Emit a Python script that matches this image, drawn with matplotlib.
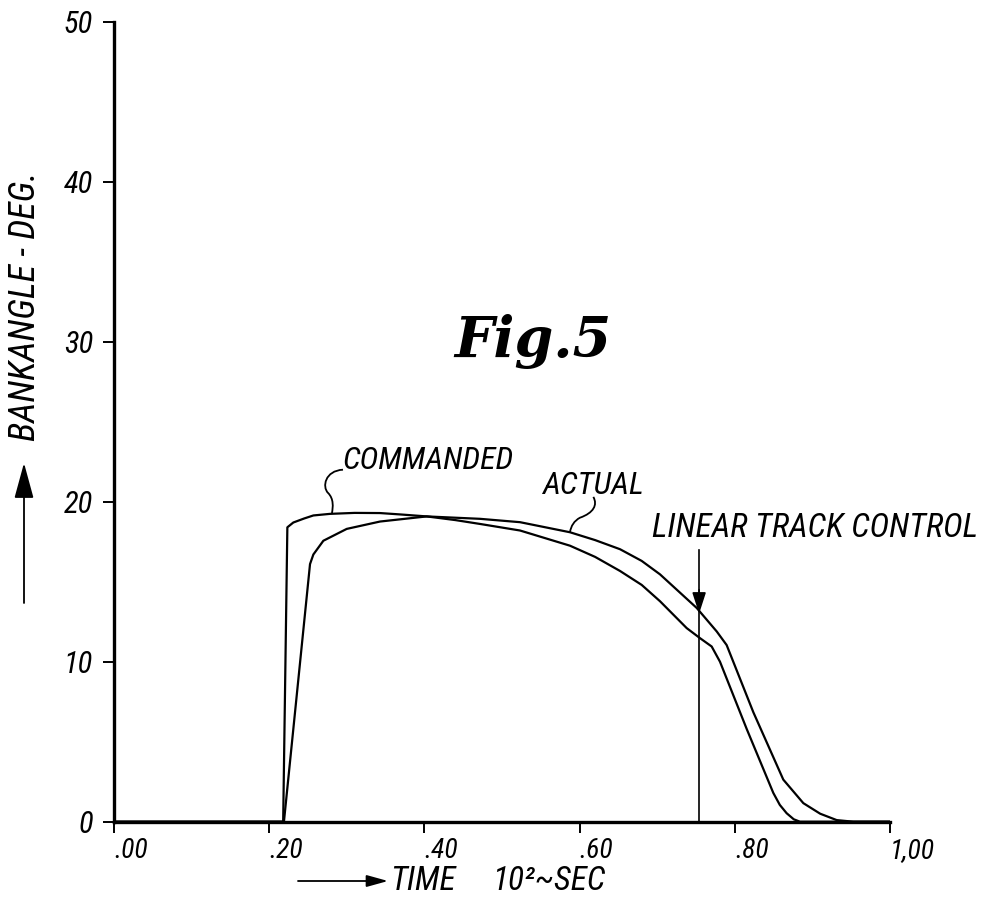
import matplotlib
matplotlib.use("Agg")
import matplotlib.pyplot as plt
from matplotlib import font_manager
from matplotlib.path import Path
from matplotlib.patches import PathPatch

# Bank angle response, time in 10^2 sec, angle in deg
time_commanded = [0.0, 0.218, 0.2234, 0.2311, 0.245, 0.2569, 0.2784, 0.31, 0.3428, 0.37,
                  0.403, 0.44, 0.4716, 0.5232, 0.5876, 0.62, 0.6521, 0.68, 0.7036, 0.738,
                  0.7552, 0.7702, 0.7809, 0.8153, 0.8496, 0.858, 0.8668, 0.876, 0.884, 1.0]
bank_commanded = [0.0, 0.0, 18.4, 18.7, 18.95, 19.14, 19.24, 19.3, 19.29, 19.2,
                  19.08, 18.85, 18.61, 18.2, 17.25, 16.55, 15.67, 14.8, 13.78, 12.1,
                  11.47, 10.95, 10.0, 5.8, 1.8, 1.05, 0.53, 0.15, 0.0, 0.0]

time_actual = [0.0, 0.219, 0.2526, 0.2569, 0.2698, 0.2999, 0.3428, 0.403, 0.4716,
               0.5232, 0.5876, 0.62, 0.6521, 0.68, 0.7036, 0.7509, 0.7767, 0.7895,
               0.8239, 0.8625, 0.8883, 0.91, 0.9313, 0.9527, 1.0]
bank_actual = [0.0, 0.0, 16.1, 16.7, 17.56, 18.3, 18.76, 19.08, 18.93,
               18.72, 18.09, 17.6, 17.03, 16.3, 15.46, 13.36, 11.89, 11.04,
               6.84, 2.63, 1.16, 0.5, 0.1, 0.0, 0.0]

x_ticks = [0.0, 0.2, 0.4, 0.6, 0.8, 1.0]
x_tick_labels = [".00", ".20", ".40", ".60", ".80", "1,00"]
y_ticks = [0, 10, 20, 30, 40, 50]
y_tick_labels = ["0", "10", "20", "30", "40", "50"]

# linear track control marker
track_time = 0.754
track_top = 17.0
track_tip = 13.0

# leader squiggles (data coords)
cmd_leader_x = [0.2951, 0.2719, 0.268, 0.2758, 0.2835, 0.2822, 0.2809]
cmd_leader_y = [22.0, 21.94, 20.93, 20.55, 20.17, 19.67, 19.29]
act_leader_x = [0.6177, 0.6235, 0.618, 0.6005, 0.5930, 0.5890, 0.5876]
act_leader_y = [20.3, 19.8, 19.3, 19.0, 18.8, 18.5, 18.09]

names = {f.name for f in font_manager.fontManager.ttflist}
hand = next((n for n in ["Liberation Sans Narrow", "Roboto Condensed", "Liberation Sans"]
             if n in names), "DejaVu Sans")
narrow = hand != "Liberation Sans"
k = 1.0 if narrow else 0.85

W, H = 990, 899
fig = plt.figure(figsize=(W / 100, H / 100), dpi=100)
ax = fig.add_axes([114 / W, 1 - 821.7 / H, (890 - 114) / W, 800 / H])


def fpx(x, y):
    return x / W, 1 - y / H


ax.plot(time_commanded, bank_commanded, color="black", lw=1.6, solid_joinstyle="round")
ax.plot(time_actual, bank_actual, color="black", lw=1.6, solid_joinstyle="round")

ax.set_xlim(0, 1)
ax.set_ylim(0, 50)
for s in ["top", "right"]:
    ax.spines[s].set_visible(False)
for s in ["left", "bottom"]:
    ax.spines[s].set_linewidth(2.4)

ax.set_xticks(x_ticks, x_tick_labels)
ax.set_yticks(y_ticks, y_tick_labels)
ax.tick_params(axis="both", direction="out", length=8, width=1.4)
ax.tick_params(axis="y", pad=7, labelsize=22 * k)
ax.tick_params(axis="x", pad=4, labelsize=20 * k)
for lbl in ax.get_xticklabels() + ax.get_yticklabels():
    lbl.set_fontfamily(hand)
    lbl.set_fontstyle("italic")
for lbl in ax.get_xticklabels():
    lbl.set_horizontalalignment("left")

# linear track control arrow
ax.plot([track_time, track_time], [0, track_top], color="black", lw=1.2)
ax.annotate("", xy=(track_time, track_tip), xytext=(track_time, track_tip + 1.5),
            arrowprops=dict(arrowstyle="-|>,head_length=1.3,head_width=0.42",
                            color="black", lw=1.2, shrinkA=0, shrinkB=0))

codes = [Path.MOVETO] + [Path.CURVE4] * 6
for lx, ly in [(cmd_leader_x, cmd_leader_y), (act_leader_x, act_leader_y)]:
    ax.add_patch(PathPatch(Path(list(zip(lx, ly)), codes), fill=False,
                           edgecolor="black", lw=1.3, clip_on=False))

txt = dict(fontfamily=hand, fontstyle="italic", color="black", clip_on=False)
ax.text(0.2938, 22.06, "COMMANDED", fontsize=23 * k, ha="left", va="baseline", **txt)
ax.text(0.5515, 20.49, "ACTUAL", fontsize=23 * k, ha="left", va="baseline", **txt)
ax.text(0.6933, 17.77, "LINEAR TRACK CONTROL", fontsize=24 * k, ha="left",
        va="baseline", **txt)
ax.text(0.54, 30.0, "Fig.5", fontsize=40, fontfamily="DejaVu Serif",
        fontweight="bold", fontstyle="italic", ha="center", va="center")

# axis titles drawn like the original lettering
fig.text(*fpx(25, 306), "BANKANGLE - DEG.", rotation=90, fontsize=26 * k,
         ha="center", va="center", fontfamily=hand, fontstyle="italic")
fig.text(*fpx(390, 890), "TIME", fontsize=24 * k, ha="left", va="baseline",
         fontfamily=hand, fontstyle="italic")
fig.text(*fpx(492, 890), "10²~SEC", fontsize=24 * k, ha="left", va="baseline",
         fontfamily=hand, fontstyle="italic")

ax.annotate("", xy=fpx(24, 463), xytext=fpx(24, 603), xycoords="figure fraction",
            textcoords="figure fraction",
            arrowprops=dict(arrowstyle="-|>,head_length=1.1,head_width=0.3",
                            mutation_scale=20, color="black", lw=1.3,
                            shrinkA=0, shrinkB=0))
ax.annotate("", xy=fpx(388, 881), xytext=fpx(298, 881), xycoords="figure fraction",
            textcoords="figure fraction",
            arrowprops=dict(arrowstyle="-|>,head_length=0.65,head_width=0.18",
                            mutation_scale=20, color="black", lw=1.3,
                            shrinkA=0, shrinkB=0))

fig.savefig("out.png", dpi=100)
